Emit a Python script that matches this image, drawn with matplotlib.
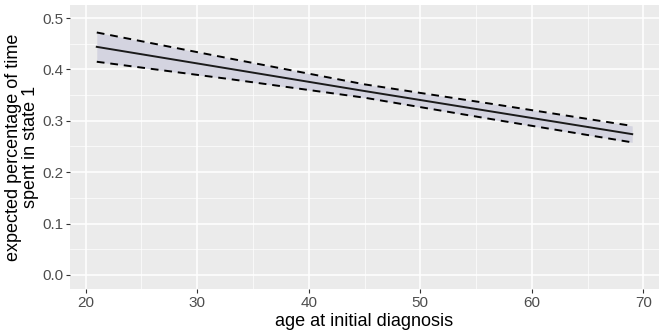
import matplotlib
matplotlib.use("Agg")
import matplotlib.pyplot as plt

age = [21, 33, 45, 57, 69]
est = [0.444, 0.401, 0.358, 0.316, 0.274]
lower = [0.415, 0.381, 0.345, 0.301, 0.258]
upper = [0.472, 0.421, 0.371, 0.331, 0.290]

plt.rcParams['font.family'] = ['Liberation Sans', 'DejaVu Sans']

fig = plt.figure(figsize=(6.64, 3.32), dpi=100)
ax = fig.add_axes([70 / 664, 43 / 332, 589 / 664, 284 / 332])
ax.set_facecolor('#ebebeb')

ax.fill_between(age, lower, upper, color='#d4d4e0', linewidth=0, zorder=2)
ax.plot(age, est, color='#1a1a1a', linewidth=1.4, zorder=3)
ax.plot(age, lower, color='black', linewidth=1.4, linestyle=(0, (4, 3)), zorder=3)
ax.plot(age, upper, color='black', linewidth=1.4, linestyle=(0, (4, 3)), zorder=3)

ax.set_xlim(18.6, 71.4)
ax.set_ylim(-0.0275, 0.5255)
ax.set_xticks([20, 30, 40, 50, 60, 70])
ax.set_yticks([0.0, 0.1, 0.2, 0.3, 0.4, 0.5])
ax.set_yticklabels(['0.0', '0.1', '0.2', '0.3', '0.4', '0.5'])
ax.set_xticks([25, 35, 45, 55, 65], minor=True)
ax.set_yticks([0.05, 0.15, 0.25, 0.35, 0.45], minor=True)
ax.grid(which='major', color='white', linewidth=1.1)
ax.grid(which='minor', color='white', linewidth=0.5)
ax.set_axisbelow(True)
for s in ax.spines.values():
    s.set_visible(False)
ax.tick_params(which='major', length=3, pad=2, color='#333333', labelsize=11, labelcolor='#4d4d4d')
ax.tick_params(which='minor', length=0)

ax.set_xlabel('age at initial diagnosis', fontsize=13, labelpad=2)
ax.set_ylabel('expected percentage of time\nspent in state 1', fontsize=13, linespacing=1.0)
ax.yaxis.set_label_coords(-31 / 589, 0.5)

fig.savefig('out.png', dpi=100)
